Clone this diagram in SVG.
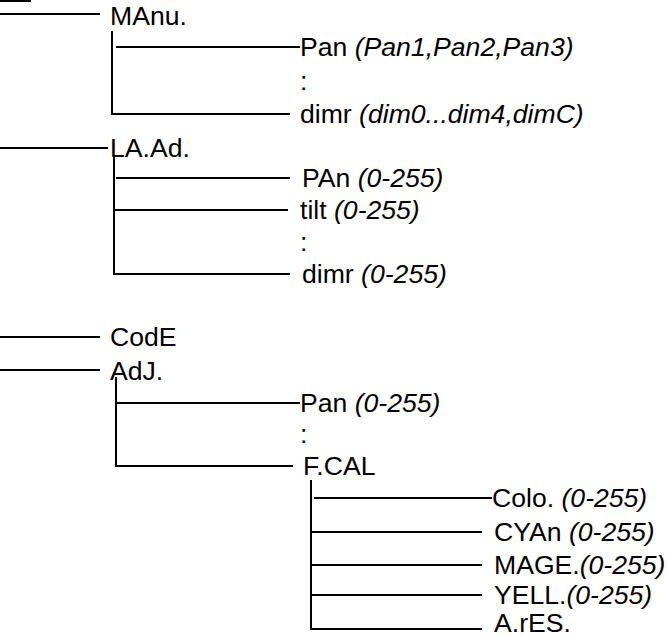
<svg xmlns="http://www.w3.org/2000/svg" width="668" height="638" viewBox="0 0 668 638">
<style>
text{font-family:"Liberation Sans",Arial,sans-serif;font-size:26.6px;fill:#000}
.i{font-style:italic}
#connectors line{stroke:#000;stroke-width:2;fill:none}
</style>
<rect width="668" height="638" fill="#fff"/>
<g id="connectors">
<line x1="0" y1="1" x2="31" y2="1"/>
<line x1="0" y1="14" x2="100" y2="14"/>
<line x1="112" y1="31" x2="112" y2="115"/>
<line x1="116" y1="47" x2="300" y2="47"/>
<line x1="111" y1="114" x2="290" y2="114"/>
<line x1="0" y1="148" x2="108" y2="148"/>
<line x1="114" y1="156" x2="114" y2="275"/>
<line x1="116" y1="178" x2="290" y2="178"/>
<line x1="113" y1="210" x2="288" y2="210"/>
<line x1="113" y1="274" x2="290" y2="274"/>
<line x1="0" y1="337" x2="100" y2="337"/>
<line x1="0" y1="370" x2="100" y2="370"/>
<line x1="116" y1="377" x2="116" y2="467"/>
<line x1="115" y1="403" x2="300" y2="403"/>
<line x1="115" y1="466" x2="293" y2="466"/>
<line x1="311" y1="480" x2="311" y2="630"/>
<line x1="314" y1="498" x2="492" y2="498"/>
<line x1="310" y1="532" x2="482" y2="532"/>
<line x1="310" y1="565" x2="482" y2="565"/>
<line x1="310" y1="595" x2="482" y2="595"/>
<line x1="310" y1="629" x2="482" y2="629"/>
</g>
<g id="manu"><text x="110" y="25">MAnu.</text></g>
<g id="manu-pan"><text x="300" y="56">Pan <tspan class="i">(Pan1,Pan2,Pan3)</tspan></text></g>
<g id="manu-dots"><text x="300" y="90">:</text></g>
<g id="manu-dimr"><text x="300" y="123">dimr <tspan class="i">(dim0...dim4,dimC)</tspan></text></g>
<g id="laad"><text x="110" y="157">LA.Ad.</text></g>
<g id="laad-pan"><text x="302" y="187">PAn <tspan class="i">(0-255)</tspan></text></g>
<g id="laad-tilt"><text x="300" y="219">tilt <tspan class="i">(0-255)</tspan></text></g>
<g id="laad-dots"><text x="300" y="251">:</text></g>
<g id="laad-dimr"><text x="302" y="283">dimr <tspan class="i">(0-255)</tspan></text></g>
<g id="code"><text x="110" y="346">CodE</text></g>
<g id="adj"><text x="110" y="380">AdJ.</text></g>
<g id="adj-pan"><text x="300" y="412">Pan <tspan class="i">(0-255)</tspan></text></g>
<g id="adj-dots"><text x="300" y="443">:</text></g>
<g id="fcal"><text x="303" y="475">F.CAL</text></g>
<g id="colo"><text x="492" y="507">Colo. <tspan class="i">(0-255)</tspan></text></g>
<g id="cyan"><text x="494" y="541">CYAn <tspan class="i">(0-255)</tspan></text></g>
<g id="mage"><text x="494" y="574">MAGE.<tspan class="i">(0-255)</tspan></text></g>
<g id="yell"><text x="494" y="604">YELL.<tspan class="i">(0-255)</tspan></text></g>
<g id="ares"><text x="494" y="632">A.rES.</text></g>
</svg>
